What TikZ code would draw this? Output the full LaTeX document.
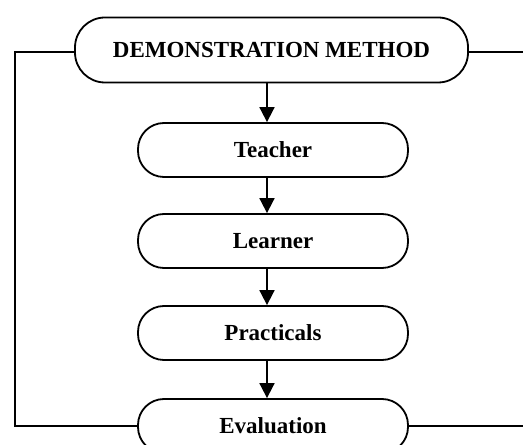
\documentclass[tikz,border=0pt]{standalone}
\usepackage{fontspec}
\setmainfont{Liberation Serif}
\usetikzlibrary{arrows.meta}
\begin{document}
\begin{tikzpicture}[x=1pt,y=1pt,
  box/.style={draw, line width=1.8pt, rounded corners=26pt, minimum height=54pt, minimum width=270pt, font=\fontsize{23}{27}\selectfont\bfseries, inner sep=0pt},
  flow/.style={line width=1.8pt, -{Triangle[width=15pt,length=15pt]}},
  wire/.style={line width=1.8pt}]
\useasboundingbox (0,0) rectangle (523,445);
\clip (0,0) rectangle (523,445);
\fill[white] (0,0) rectangle (523,445);
\node[box, minimum width=393pt, minimum height=65pt, rounded corners=30pt] (top) at (271.5,395) {DEMONSTRATION METHOD};
\node[box] (teacher) at (273,295) {Teacher};
\node[box] (learner) at (273,204) {Learner};
\node[box] (pract) at (273,112) {Practicals};
\node[box] (eval) at (273,19) {Evaluation};
\coordinate (ax) at (267,0);
\coordinate (lt) at (15,0);
\coordinate (rt) at (530,0);
\draw[flow] (ax |- top.south) -- (ax |- teacher.north);
\draw[flow] (ax |- teacher.south) -- (ax |- learner.north);
\draw[flow] (ax |- learner.south) -- (ax |- pract.north);
\draw[flow] (ax |- pract.south) -- (ax |- eval.north);
\draw[wire] ([yshift=-2pt]top.west) -| (lt |- eval.west) -- (eval.west);
\draw[wire] ([yshift=-2pt]top.east) -- ([yshift=-2pt]rt |- top.east);
\draw[wire] (eval.east) -- (rt |- eval.east);
\end{tikzpicture}
\end{document}
